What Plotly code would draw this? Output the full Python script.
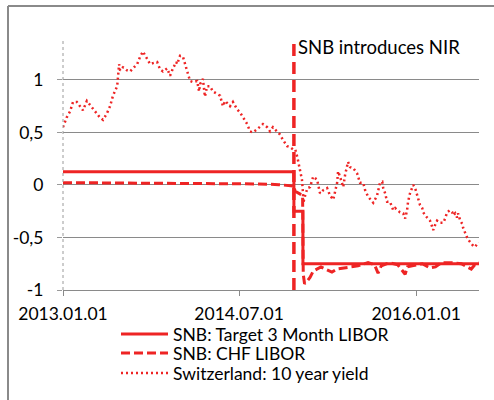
import plotly.graph_objects as go

# ---- data ----
target_dates = ["2013-01-01", "2014-12-18", "2015-01-15", "2016-07-14"]
target_vals = [0.125, -0.25, -0.75, -0.75]

libor_dates = ["2013-01-01", "2013-04-01", "2013-07-01", "2013-10-01", "2014-01-01", "2014-04-01",
               "2014-07-01", "2014-09-01", "2014-11-01", "2014-12-01", "2014-12-17", "2014-12-22",
               "2015-01-05", "2015-01-14", "2015-01-16", "2015-01-20", "2015-01-27", "2015-02-06",
               "2015-02-16", "2015-02-26", "2015-03-12", "2015-03-25", "2015-04-15", "2015-05-01",
               "2015-05-20", "2015-06-10", "2015-07-05", "2015-08-05", "2015-08-25", "2015-09-05",
               "2015-09-15", "2015-10-10", "2015-11-05", "2015-11-28", "2015-12-05", "2015-12-20",
               "2016-01-01", "2016-01-20", "2016-02-13", "2016-03-01", "2016-03-20", "2016-04-20",
               "2016-05-20", "2016-06-20", "2016-07-01", "2016-07-14"]
libor_vals = [0.022, 0.021, 0.02, 0.02, 0.019, 0.015,
              0.012, 0.01, 0.003, -0.003, -0.01, -0.06,
              -0.08, -0.10, -0.85, -0.94, -0.92, -0.88,
              -0.82, -0.80, -0.78, -0.80, -0.83, -0.80,
              -0.79, -0.78, -0.77, -0.74, -0.76, -0.84,
              -0.77, -0.74, -0.76, -0.85, -0.78, -0.77,
              -0.76, -0.75, -0.79, -0.78, -0.74, -0.74,
              -0.75, -0.80, -0.76, -0.74]

yield_dates = ["2013-01-01", "2013-01-12", "2013-01-23", "2013-02-01", "2013-02-13", "2013-02-23",
               "2013-03-04", "2013-03-16", "2013-03-26", "2013-04-10", "2013-04-26", "2013-05-05",
               "2013-05-17", "2013-05-27", "2013-06-05", "2013-06-18", "2013-06-21", "2013-06-24",
               "2013-06-27", "2013-07-06", "2013-07-19", "2013-07-28", "2013-08-06", "2013-08-19",
               "2013-08-28", "2013-09-06", "2013-09-19", "2013-09-28", "2013-10-07", "2013-10-20",
               "2013-10-29", "2013-11-07", "2013-11-20", "2013-11-29", "2013-12-08", "2013-12-18",
               "2013-12-21", "2013-12-30", "2014-01-08", "2014-01-18", "2014-01-24", "2014-01-30",
               "2014-02-08", "2014-02-21", "2014-02-27", "2014-03-02", "2014-03-11", "2014-03-17",
               "2014-03-24", "2014-04-02", "2014-04-11", "2014-04-24", "2014-05-03", "2014-05-12",
               "2014-05-19", "2014-05-28", "2014-06-03", "2014-06-12", "2014-06-25", "2014-07-04",
               "2014-07-13", "2014-07-26", "2014-08-04", "2014-08-13", "2014-08-26", "2014-09-04",
               "2014-09-13", "2014-09-26", "2014-10-05", "2014-10-14", "2014-10-27", "2014-11-05",
               "2014-11-14", "2014-11-27", "2014-12-06", "2014-12-15", "2014-12-22", "2014-12-29",
               "2015-01-06", "2015-01-12", "2015-01-15", "2015-01-16", "2015-01-22", "2015-01-29",
               "2015-02-06", "2015-02-16", "2015-02-28", "2015-03-09", "2015-03-19", "2015-03-31",
               "2015-04-09", "2015-04-19", "2015-05-01", "2015-05-04", "2015-05-10", "2015-05-16",
               "2015-05-20", "2015-05-26", "2015-06-04", "2015-06-10", "2015-06-20", "2015-07-02",
               "2015-07-11", "2015-07-21", "2015-07-27", "2015-08-05", "2015-08-11", "2015-08-21",
               "2015-09-02", "2015-09-11", "2015-09-18", "2015-09-21", "2015-09-27", "2015-10-03",
               "2015-10-12", "2015-10-22", "2015-10-28", "2015-11-03", "2015-11-12", "2015-11-22",
               "2015-11-28", "2015-12-04", "2015-12-07", "2015-12-13", "2015-12-20", "2015-12-23",
               "2015-12-29", "2016-01-04", "2016-01-07", "2016-01-13", "2016-01-20", "2016-01-23",
               "2016-01-29", "2016-02-04", "2016-02-07", "2016-02-13", "2016-02-20", "2016-02-23",
               "2016-02-29", "2016-03-06", "2016-03-15", "2016-03-25", "2016-03-31", "2016-04-06",
               "2016-04-15", "2016-04-22", "2016-04-25", "2016-05-01", "2016-05-07", "2016-05-10",
               "2016-05-17", "2016-05-23", "2016-05-26", "2016-06-01", "2016-06-07", "2016-06-13",
               "2016-06-20", "2016-06-26", "2016-07-02", "2016-07-08", "2016-07-14"]
yield_vals = [0.55, 0.64, 0.70, 0.79, 0.79, 0.75,
              0.71, 0.80, 0.76, 0.70, 0.64, 0.62,
              0.68, 0.75, 0.85, 0.94, 1.04, 1.15,
              1.09, 1.12, 1.09, 1.08, 1.11, 1.15,
              1.22, 1.27, 1.20, 1.15, 1.16, 1.17,
              1.10, 1.08, 1.11, 1.04, 1.11, 1.17,
              1.15, 1.23, 1.22, 1.11, 1.03, 0.99,
              0.98, 0.99, 0.89, 0.96, 1.01, 0.84,
              0.94, 0.94, 0.89, 0.87, 0.85, 0.75,
              0.80, 0.77, 0.75, 0.79, 0.72, 0.69,
              0.64, 0.58, 0.51, 0.50, 0.53, 0.56,
              0.58, 0.55, 0.51, 0.55, 0.51, 0.48,
              0.43, 0.37, 0.36, 0.34, 0.34, 0.26,
              0.14, 0.05, -0.07, -0.17, -0.10, -0.03,
              -0.02, 0.08, 0.05, -0.08, -0.05, -0.03,
              -0.10, -0.14, 0.02, 0.13, 0.08, 0.03,
              -0.02, 0.10, 0.22, 0.17, 0.16, 0.11,
              0.02, 0.02, -0.05, -0.11, -0.13, -0.17,
              -0.10, 0.02, 0.03, -0.03, -0.08, -0.16,
              -0.16, -0.24, -0.22, -0.24, -0.26, -0.27,
              -0.32, -0.24, -0.16, -0.08, -0.02, 0.00,
              -0.03, -0.10, -0.14, -0.19, -0.22, -0.26,
              -0.29, -0.31, -0.31, -0.34, -0.40, -0.43,
              -0.38, -0.34, -0.36, -0.36, -0.32, -0.26,
              -0.24, -0.26, -0.29, -0.27, -0.31, -0.27,
              -0.34, -0.37, -0.41, -0.46, -0.50, -0.53,
              -0.56, -0.58, -0.59, -0.56, -0.55]

nir_date = "2014-12-18"
nir_label = "SNB introduces NIR"

x_tick_vals = ["2013-01-01", "2014-07-01", "2016-01-01"]
x_tick_text = ["2013.01.01", "2014.07.01", "2016.01.01"]
y_tick_vals = [-1, -0.5, 0, 0.5, 1]
y_tick_text = ["-1", "-0,5", "0", "0,5", "1"]

RED = "#EE2424"
FONT = "Lato"
FS = 17.5

fig = go.Figure()
fig.add_trace(go.Scatter(x=target_dates, y=target_vals, mode="lines", line_shape="hv",
                         name="SNB: Target 3 Month LIBOR", legend="legend",
                         line=dict(color=RED, width=3)))
fig.add_trace(go.Scatter(x=libor_dates, y=libor_vals, mode="lines",
                         name="SNB: CHF LIBOR", legend="legend2",
                         line=dict(color=RED, width=3, dash="9px,4px")))
fig.add_trace(go.Scatter(x=yield_dates, y=yield_vals, mode="lines",
                         name="Switzerland: 10 year yield", legend="legend3",
                         line=dict(color=RED, width=2.5, dash="2px,3px")))

shapes = [
    dict(type="line", xref="paper", yref="paper", x0=0, x1=0, y0=0, y1=1,
         line=dict(color="#9a9a9a", width=1, dash="3px,3px")),
    dict(type="line", xref="x", yref="paper", x0=nir_date, x1=nir_date, y0=0, y1=1,
         line=dict(color=RED, width=3.5, dash="12px,6px")),
    dict(type="line", xref="paper", yref="paper", x0=-0.1322, x1=-0.1322, y0=-0.5, y1=1.136,
         line=dict(color="#8a8a8a", width=2)),
    dict(type="line", xref="paper", yref="paper", x0=-0.1322, x1=1.1, y0=1.136, y1=1.136,
         line=dict(color="#8a8a8a", width=2)),
]

def leg(yc):
    return dict(orientation="v", x=(116 - 63) / 416, xanchor="left", y=(290 - yc) / 250,
                yanchor="middle", font=dict(family=FONT, size=FS, color="black"),
                bgcolor="rgba(0,0,0,0)", itemwidth=47, borderwidth=0)

fig.update_layout(
    width=494, height=400,
    margin=dict(l=63, r=15, t=40, b=110, autoexpand=False),
    paper_bgcolor="white", plot_bgcolor="white",
    font=dict(family=FONT, size=FS, color="black"),
    shapes=shapes,
    annotations=[dict(x=nir_date, xref="x", y=(290 - 47) / 250, yref="paper",
                      text=nir_label, showarrow=False, xanchor="left", yanchor="middle",
                      xshift=2, font=dict(family=FONT, size=18.5, color="black"))],
    showlegend=True,
    legend=leg(334), legend2=leg(353), legend3=leg(373),
)
fig.update_xaxes(type="date", range=["2013-01-01", "2016-07-14"],
                 tickvals=x_tick_vals, ticktext=x_tick_text,
                 ticks="outside", ticklen=5, tickcolor="#8a8a8a",
                 showgrid=False, showline=True, linecolor="#8a8a8a", linewidth=1,
                 zeroline=False, automargin=False, ticklabelstandoff=3,
                 tickfont=dict(family=FONT, size=FS))
fig.update_yaxes(range=[-1, 1.38], tickvals=y_tick_vals, ticktext=y_tick_text,
                 ticks="outside", ticklen=5, tickcolor="#9a9a9a",
                 showgrid=True, gridcolor="#8a8a8a", gridwidth=1,
                 zeroline=False, showline=False, ticklabelstandoff=10, automargin=False,
                 tickfont=dict(family=FONT, size=FS))

fig.write_html("out.html", config={"displayModeBar": False},
               post_script="document.body.style.margin='0';")
